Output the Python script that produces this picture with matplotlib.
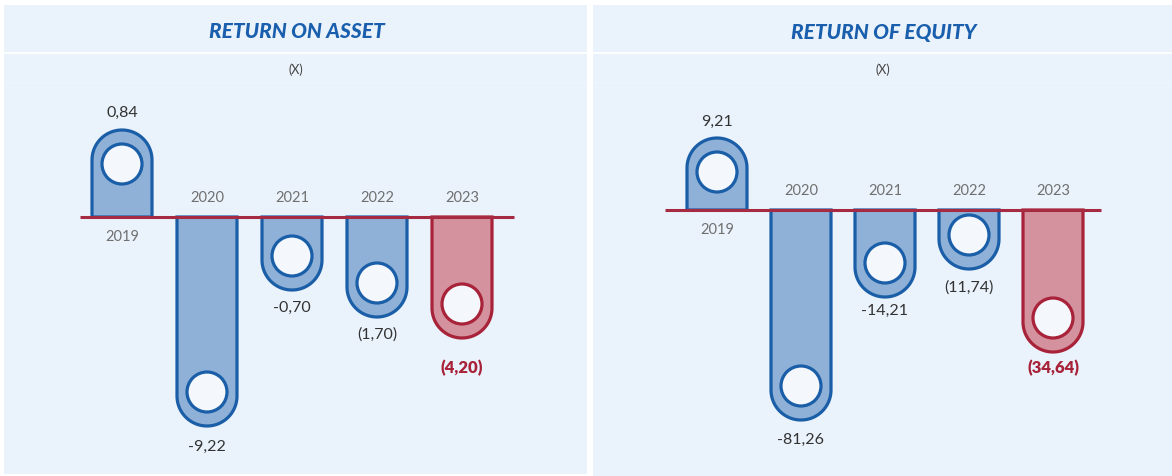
import numpy as np
import matplotlib.pyplot as plt
from matplotlib.path import Path
from matplotlib.patches import PathPatch, Ellipse

plt.rcParams['font.family'] = ['Lato', 'DejaVu Sans']

years = ["2019", "2020", "2021", "2022", "2023"]

# Return on asset
roa_values = [0.84, -9.22, -0.70, -1.70, -4.20]
roa_labels = ["0,84", "-9,22", "-0,70", "(1,70)", "(4,20)"]
roa_length = [87, 209, 73, 100, 121]      # drawn bar length

# Return of equity
roe_values = [9.21, -81.26, -14.21, -11.74, -34.64]
roe_labels = ["9,21", "-81,26", "-14,21", "(11,74)", "(34,64)"]
roe_length = [72, 210, 87, 59, 142]

BG = "#EAF2FB"
BLUE_FILL, BLUE_EDGE = "#8FB1D7", "#1A5EA8"
RED_FILL, RED_EDGE = "#D4919E", "#A82339"
ZERO = "#A52A42"
TITLE = "#1A5FAD"

W, H = 1172, 476
fig = plt.figure(figsize=(W / 100, H / 100), dpi=100, facecolor="white")


def pill(x, h, hw, ry):
    # bar with a flat end on the zero line and a round end at h
    s = np.sign(h)
    c = h - s * ry
    t = np.linspace(np.pi, 0, 50) if s > 0 else np.linspace(np.pi, 2 * np.pi, 50)
    pts = [(x - hw, 0)] + list(zip(x + hw * np.cos(t), c + ry * np.sin(t))) + [(x + hw, 0), (x - hw, 0)]
    codes = [Path.MOVETO] + [Path.LINETO] * (len(pts) - 2) + [Path.CLOSEPOLY]
    return Path(pts, codes)


def panel(box, title, values, lengths, labels, first_x, zero_y, step, line_span, gaps):
    left, top, right, bottom = box
    ax = fig.add_axes([left / W, (H - bottom) / H, (right - left) / W, (bottom - top) / H])
    ax.set_facecolor(BG)
    for s in ax.spines.values():
        s.set_visible(False)
    ax.set_xticks([])
    ax.set_yticks([])
    # 1 y unit = 1 px, 1 x unit = step px
    x0 = -(first_x - left) / step
    ax.set_xlim(x0, x0 + (right - left) / step)
    ax.set_ylim(-(bottom - zero_y), zero_y - top)

    def frac(y):
        return (bottom - y) / (bottom - top)

    ax.axhline(zero_y - 53, color="white", lw=1.3)
    ax.axhline(zero_y - 82, color="#EFF5FC", lw=0.8)
    ax.text(0.5026, frac(32), title, transform=ax.transAxes, ha="center", va="center",
            fontsize=15, fontweight="black", fontstyle="italic", color=TITLE)
    ax.text(0.5, frac(70), "(X)", transform=ax.transAxes, ha="center", va="center",
            fontsize=9, color="#444444")

    hw = 30 / step
    for i, (v, ln, lab) in enumerate(zip(values, lengths, labels)):
        h = ln if v > 0 else -ln
        red = i == len(values) - 1
        fc, ec = (RED_FILL, RED_EDGE) if red else (BLUE_FILL, BLUE_EDGE)
        ax.add_patch(PathPatch(pill(i, h, hw, 30), fc=fc, ec=ec, lw=2.3, zorder=2))
        cy = h - np.sign(h) * 34
        ax.add_patch(Ellipse((i, cy), 2 * 20 / step, 40, fc="#F4F8FD", ec=ec, lw=2.3, zorder=3))
        g = gaps[i]
        if v > 0:
            ax.text(i, h + g, lab, ha="center", va="center", fontsize=11.5, color="#333333")
            ax.text(i, -20, years[i], ha="center", va="center", fontsize=10.5, color="#707070")
        else:
            ax.text(i, h - g, lab, ha="center", va="center",
                    fontsize=12 if red else 11.5,
                    color=RED_EDGE if red else "#333333",
                    fontweight="heavy" if red else "normal")
            ax.text(i, 19, years[i], ha="center", va="center", fontsize=10.5, color="#707070")

    xa = (line_span[0] - first_x) / step
    xb = (line_span[1] - first_x) / step
    ax.plot([xa, xb], [0, 0], color=ZERO, lw=2.2, solid_capstyle="butt", zorder=4)
    return ax


panel((4, 5, 587, 474), "RETURN ON ASSET", roa_values, roa_length, roa_labels,
      122, 217, 85, (80, 514), [17, 21, 18, 18, 30])
panel((593, 5, 1172, 476), "RETURN OF EQUITY", roe_values, roe_length, roe_labels,
      717, 210, 84, (665, 1101), [16, 20, 14, 19, 16])

fig.savefig("out.png", dpi=100, facecolor="white")
